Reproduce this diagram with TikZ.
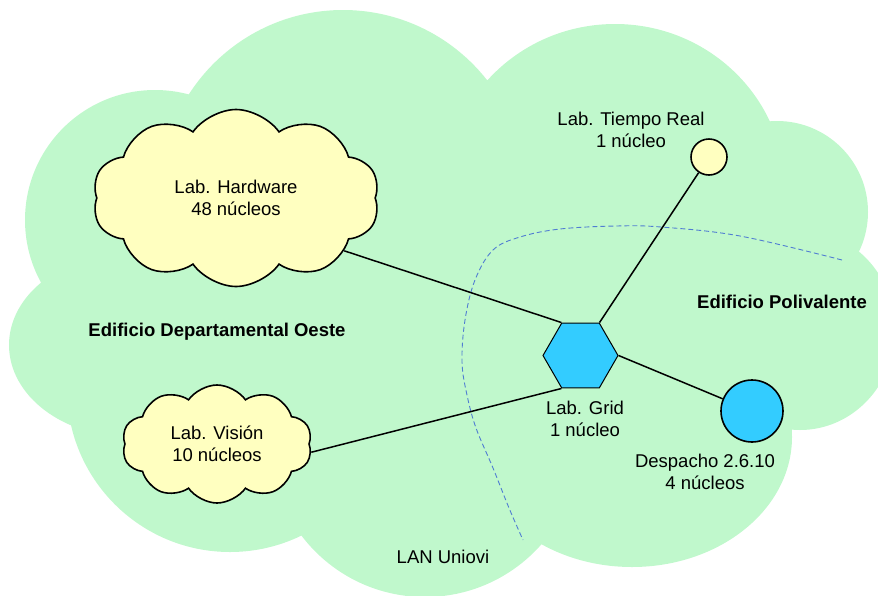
\documentclass[tikz,border=0pt]{standalone}
\usepackage{fontspec}
\setmainfont{Liberation Sans}
\usetikzlibrary{shapes.symbols,shapes.geometric}
\definecolor{cloudgreen}{HTML}{C0F8CC}
\definecolor{labyellow}{HTML}{FFFFC0}
\definecolor{gridcyan}{HTML}{33CCFF}
\definecolor{lanblue}{RGB}{80,125,210}
\begin{document}
\begin{tikzpicture}[x=1pt,y=-1pt,
  lbl/.style={align=center, font=\fontsize{18.5}{21.5}\selectfont, inner sep=0pt},
  boldlbl/.style={align=center, font=\fontsize{18.5}{21.5}\selectfont\bfseries, inner sep=0pt},
  labcloud/.style={cloud, cloud puffs=10, cloud puff arc=110, cloud ignores aspect,
    draw=black, line width=1.6pt, fill=labyellow, inner sep=0pt, lbl},
  gridhex/.style={regular polygon, regular polygon sides=6, minimum size=75,
    inner sep=0pt, draw=black, line width=1pt, fill=gridcyan},
  bluedot/.style={circle, draw=black, line width=1.6pt, fill=gridcyan, inner sep=0pt, minimum size=62},
  yellowdot/.style={circle, draw=black, line width=1.6pt, fill=labyellow, inner sep=0pt, minimum size=36},
  conn/.style={draw=black, line width=1.5pt},
  lanline/.style={draw=lanblue, line width=0.9pt, dash pattern=on 5pt off 3pt}
]
\useasboundingbox (0,0) rectangle (878,595);
% big LAN cloud
\begin{scope}
\clip (0,0) rectangle (878,595);
\fill[cloudgreen] (155,220) circle (130) (343,193) circle (183)
  (615,190) ellipse (170 and 166) (777,212) circle (91)
  (800,330) ellipse (95 and 100) (632,437) ellipse (160 and 130)
  (425,442) circle (155) (230,389) circle (163)
  (130,345) ellipse (121 and 92) (450,320) ellipse (300 and 200);
\end{scope}
% boundary between buildings
\draw[lanline] plot[smooth, tension=0.6] coordinates {(842,260) (740,236) (661,227) (616,226) (560,229) (520,237) (493,250) (475,280) (465,320) (462,362) (467,395) (476,428) (493,468) (509,508) (523,540)};
% nodes
\node[labcloud, minimum width=287, minimum height=177] (hw) at (236,198) {Lab. Hardware\\48 núcleos};
\node[labcloud, minimum width=190, minimum height=118] (vis) at (217,444) {Lab. Visión\\10 núcleos};
\node[gridhex] (grid) at (580.5,355.5) {};
\node[bluedot] (desp) at (752,411) {};
\node[yellowdot] (tr) at (709,157) {};
% connectors
\draw[conn] (hw.-26) -- (grid.120);
\draw[conn] (tr) -- (grid.60);
\draw[conn] (grid.0) -- (desp);
\draw[conn] (grid.240) -- (vis.-5);
% labels
\node[lbl] (trlbl) at (631,130) {Lab. Tiempo Real\\1 núcleo};
\node[lbl] (gridlbl) at (585,419) {Lab. Grid\\1 núcleo};
\node[lbl] (desplbl) at (705,472) {Despacho 2.6.10\\4 núcleos};
\node[lbl] (lanlbl) at (443,557) {LAN Uniovi};
\node[boldlbl] (edo) at (217,332) {Edificio Departamental Oeste};
\node[boldlbl] (edp) at (782,302) {Edificio Polivalente};
\end{tikzpicture}
\end{document}
